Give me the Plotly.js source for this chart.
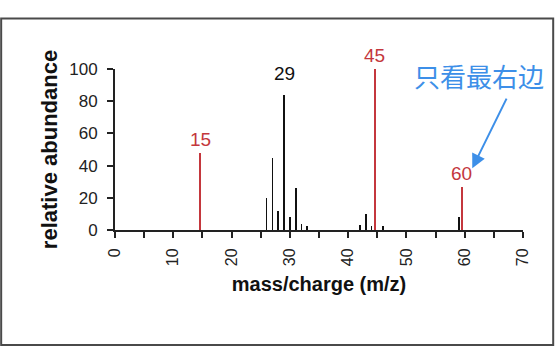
<!DOCTYPE html>
<html>
<head>
<meta charset="utf-8">
<script src="https://cdn.plot.ly/plotly-3.0.1.min.js"></script>
<style>
html,body{margin:0;padding:0;background:#fff;}
#chart{width:559px;height:360px;}
</style>
</head>
<body>
<div id="chart"></div>
<script>
// Mass spectrum peaks (m/z, relative abundance)
const blackMz = [26, 27, 28, 29, 30, 31, 32, 33, 42, 43, 44, 46, 59];
const blackAbund = [20, 45, 12, 84, 8, 26, 4, 2.5, 3, 10, 2.5, 2.7, 8];
const redMz = [14.6, 44.6, 59.5];
const redAbund = [48, 100, 27];
const redLabels = ["15", "45", "60"];
const blackLabelMz = [29];
const blackLabelAbund = [84];
const blackLabels = ["29"];
const noteText = "只看最右边";
const noteX = 62.4;
const noteY = 96;
const arrowTipX = 61.3;
const arrowTipY = 38.4;
const xTitle = "mass/charge (m/z)";
const yTitle = "relative abundance";

const red = "#c4373d";
const black = "#111";
const blue = "#3d8fe8";

const traces = [
  {type: "bar", x: blackMz, y: blackAbund, width: blackMz.map(() => 0.3),
   marker: {color: black, line: {width: 0}}, hoverinfo: "x+y"},
  {type: "bar", x: redMz, y: redAbund, width: redMz.map(() => 0.34),
   marker: {color: red, line: {width: 0}}, hoverinfo: "x+y"}
];

const annotations = [];
redMz.forEach((m, i) => annotations.push({
  x: m, y: redAbund[i], xref: "x", yref: "y", text: redLabels[i], showarrow: false,
  yanchor: "bottom", yshift: 1, font: {family: "Liberation Sans, Arial", size: 19, color: red}
}));
blackLabelMz.forEach((m, i) => annotations.push({
  x: m, y: blackLabelAbund[i], xref: "x", yref: "y", text: blackLabels[i], showarrow: false,
  yanchor: "bottom", yshift: 9, font: {family: "Liberation Sans, Arial", size: 19, color: black}
}));
// blue note + arrow
annotations.push({
  x: arrowTipX, y: arrowTipY, xref: "x", yref: "y", text: "", showarrow: true,
  ax: 35, ay: -71, arrowcolor: blue, arrowwidth: 2, arrowhead: 2, arrowsize: 1.4
});
annotations.push({
  x: noteX, y: noteY, xref: "x", yref: "y", text: noteText, showarrow: false,
  xanchor: "center", yanchor: "middle",
  font: {family: "Noto Sans CJK SC", size: 26, color: blue}
});

const layout = {
  width: 559, height: 360,
  margin: {l: 115, r: 36, t: 69, b: 130},
  paper_bgcolor: "#fff", plot_bgcolor: "#fff",
  showlegend: false, bargap: 0,
  font: {family: "Liberation Sans, Arial", color: "#222"},
  xaxis: {
    range: [0, 70], dtick: 10, tick0: 0, tickangle: -90,
    ticks: "outside", ticklen: 6, tickwidth: 2, tickcolor: "#222",
    minor: {dtick: 5, tick0: 0, ticks: "outside", ticklen: 6, tickwidth: 2, tickcolor: "#222"},
    showline: true, linecolor: "#222", linewidth: 2, showgrid: false, zeroline: false,
    tickfont: {size: 16, color: "#222"}, ticklabelstandoff: 4,
    title: {text: xTitle, font: {size: 20, color: "#111", weight: "bold"}, standoff: 12},
    automargin: false, fixedrange: true
  },
  yaxis: {
    range: [0, 100], dtick: 20, tick0: 0,
    ticks: "outside", ticklen: 6, tickwidth: 2, tickcolor: "#222",
    showline: true, linecolor: "#222", linewidth: 2, showgrid: false, zeroline: false,
    tickfont: {size: 17, color: "#222"}, ticklabelstandoff: 6,
    title: {text: yTitle, font: {size: 22, color: "#111", weight: "bold"}, standoff: 6},
    automargin: false, fixedrange: true
  },
  shapes: [{
    type: "rect", xref: "paper", yref: "paper",
    x0: -0.279, x1: 1.074, y0: -0.714, y1: 1.314,
    line: {color: "#4a4a4a", width: 2}, fillcolor: "rgba(0,0,0,0)", layer: "below"
  }],
  annotations: annotations
};

Plotly.newPlot("chart", traces, layout, {displayModeBar: false, staticPlot: true});
</script>
</body>
</html>
